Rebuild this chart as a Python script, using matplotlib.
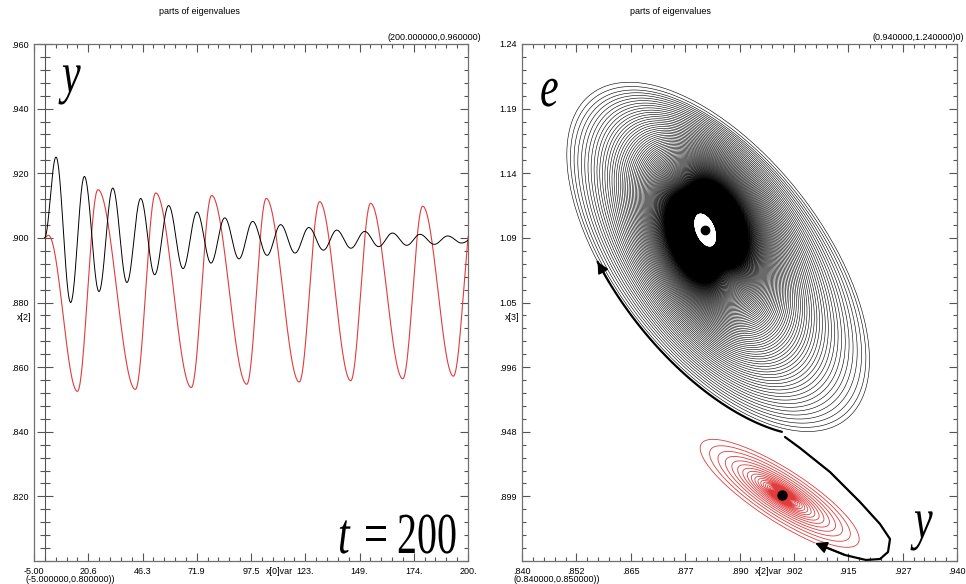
import numpy as np
import matplotlib
matplotlib.use('Agg')
import matplotlib.pyplot as plt
from matplotlib.ticker import FixedLocator
from matplotlib.textpath import TextPath
from matplotlib.patches import PathPatch
from matplotlib.font_manager import FontProperties
from matplotlib.transforms import Affine2D

# ---- left panel: y(t), extrema (t, value) ----
black_t = [0, 5.4, 12.3, 18.8, 25.7, 32.2, 38.9, 45.4, 52.0, 58.6, 65.4, 72.0, 78.6,
           85.1, 91.8, 98.3, 105.1, 111.5, 118.3, 124.8, 131.7, 138.0, 144.7, 151.2,
           157.8, 164.3, 171.1, 177.3, 184.1, 190.4, 197.0, 203.6]
black_v = [0.900, 0.925, 0.880, 0.919, 0.8834, 0.9154, 0.8862, 0.9122, 0.8886, 0.910,
           0.8905, 0.908, 0.8922, 0.9062, 0.8935, 0.9051, 0.8946, 0.9041, 0.8953, 0.9032,
           0.8962, 0.9024, 0.8968, 0.9020, 0.8973, 0.9015, 0.8977, 0.9011, 0.8980, 0.9006,
           0.8984, 0.9004]
red_t = [0, 1.8, 15.5, 25.2, 42.9, 52.5, 69.3, 78.9, 95.5, 104.7, 120.3, 129.9, 144.6,
         154.0, 169.2, 178.6, 193.1, 202.6]
red_v = [0.900, 0.9008, 0.8525, 0.9149, 0.8531, 0.9139, 0.8537, 0.9131, 0.8547, 0.9122,
         0.8554, 0.9112, 0.8558, 0.9107, 0.8564, 0.9098, 0.8572, 0.909]

t_labels = ['-5.00', '20.6', '46.3', '71.9', '97.5', '123.', '149.', '174.', '200.']
yl_labels = ['', '.820', '.840', '.860', '.880', '.900', '.920', '.940', '.960']

# ---- right panel: phase plane e vs y ----
xr_labels = ['.840', '.852', '.865', '.877', '.890', '.902', '.915', '.927', '.940']
yr_labels = ['', '.899', '.948', '.996', '1.05', '1.09', '1.14', '1.19', '1.24']

# branch from the saddle down to the red focus (thick black)
branch_x = [0.90046, 0.90391, 0.91080, 0.91770, 0.92230, 0.92460, 0.92414, 0.92230,
            0.91908, 0.91425, 0.90966, 0.90736]
branch_y = [0.94353, 0.93523, 0.91713, 0.89450, 0.87790, 0.86658, 0.85678, 0.85150,
            0.85075, 0.85451, 0.86055, 0.86357]

# big black spiral: centre, ellipse axes (outer ring and inner hole shape)
big_center_out = (0.8853, 1.0786)
big_center_in = (0.8821, 1.0997)
big_major_out = (0.0283, -0.1189)
big_minor_out = (-0.0181, -0.0465)
big_major_in = (0.0172, -0.1399)
big_minor_in = (-0.0240, -0.0318)
big_start, big_end, big_phi0 = 1.05, 0.09, 0.58
big_rate, big_power = 0.024, 0.42     # shrink per turn, slower near the focus
big_arrow_phi = 1.95

# red spiral round the lower focus
red_center = (0.8998, 0.8998)
red_major = (0.020130, -0.042444)
red_minor = (-0.003482, -0.017785)
red_end, red_q = 0.018, 0.885

RED = '#e03c3c'
TICK = '#555555'

plt.rcParams['font.family'] = ['Liberation Sans', 'DejaVu Sans']
W, H, DPI = 966, 584, 100
fig = plt.figure(figsize=(W / DPI, H / DPI), dpi=DPI)


def through_extrema(ts, vs, n=60):
    tt, yy = [], []
    for i in range(len(ts) - 1):
        f = np.linspace(0, 1, n, endpoint=False)
        tt.append(ts[i] + (ts[i + 1] - ts[i]) * f)
        yy.append(vs[i] + (vs[i + 1] - vs[i]) * (1 - np.cos(np.pi * f)) / 2)
    tt.append([ts[-1]]); yy.append([vs[-1]])
    return np.concatenate(tt), np.concatenate(yy)


def spiral(c_out, c_in, M_out, N_out, M_in, N_in, s0, s1, rate, power, phi0, s_in,
           per_turn=220):
    # size s shrinks by about rate * s**power per turn (power 0: geometric)
    if power == 0:
        turns = np.log(s0 / s1) / rate
    else:
        turns = (s1 ** -power - s0 ** -power) / (power * rate)
    n = np.linspace(0, turns, int(turns * per_turn))
    phi = phi0 + 2 * np.pi * n
    if power == 0:
        s = s0 * np.exp(-rate * n)
    else:
        s = (s0 ** -power + power * rate * n) ** (-1 / power)
    w = np.clip((s - s_in) / (1 - s_in), 0, 1)[:, None]
    c = np.array(c_in) + (np.array(c_out) - np.array(c_in)) * w
    M = np.array(M_in) + (np.array(M_out) - np.array(M_in)) * w
    N = np.array(N_in) + (np.array(N_out) - np.array(N_in)) * w
    p = c + s[:, None] * (np.cos(phi)[:, None] * M + np.sin(phi)[:, None] * N)
    return phi, p[:, 0], p[:, 1]


def frame(ax, xlim, ylim, xlabels, ylabels):
    ax.set_xlim(xlim); ax.set_ylim(ylim)
    ax.xaxis.set_major_locator(FixedLocator(np.linspace(*xlim, 9)))
    ax.xaxis.set_minor_locator(FixedLocator(np.linspace(*xlim, 41)))
    ax.yaxis.set_major_locator(FixedLocator(np.linspace(*ylim, 9)))
    ax.yaxis.set_minor_locator(FixedLocator(np.linspace(*ylim, 41)))
    ax.set_xticklabels(xlabels)
    ax.set_yticklabels(ylabels)
    for sp in ax.spines.values():
        sp.set_color('#707070'); sp.set_linewidth(0.9)
    ax.tick_params(which='both', direction='in', color=TICK, width=0.8,
                   labelsize=6.5, top=True, right=True, pad=4)
    ax.tick_params(which='major', length=6)
    ax.tick_params(which='minor', length=3.2)


def big_text(s, x, base, style='italic', ew=42, eh=58):
    fp = FontProperties(family='Liberation Serif', style=style)
    path = TextPath((0, 0), s, size=1, prop=fp)
    tr = Affine2D().scale(ew / DPI, eh / DPI).translate(x / DPI, (H - base) / DPI)
    fig.add_artist(PathPatch(path, transform=tr + fig.dpi_scale_trans,
                             facecolor='black', edgecolor='none'))


def ftext(x, y, s, **kw):
    fig.text(x / W, 1 - y / H, s, fontsize=6.5, va='center', **kw)


# ---------------- left panel ----------------
axl = fig.add_axes([34 / W, 23 / H, 434 / W, 517 / H])
frame(axl, (-5, 200), (0.80, 0.96), t_labels, yl_labels)
axl.tick_params(axis='y', which='both', left=False)
x0 = (0 - axl.get_xlim()[0]) / (axl.get_xlim()[1] - axl.get_xlim()[0])
sec = axl.secondary_yaxis(x0)
sec.yaxis.set_major_locator(FixedLocator(np.linspace(0.80, 0.96, 9)))
sec.yaxis.set_minor_locator(FixedLocator(np.linspace(0.80, 0.96, 41)))
sec.tick_params(which='both', direction='inout', color=TICK, width=0.8, labelleft=False)
sec.tick_params(which='major', length=11)
sec.tick_params(which='minor', length=7)
sec.spines['left'].set_color('#555555')

tb, vb = through_extrema(black_t, black_v)
tr_, vr = through_extrema(red_t, red_v)
axl.plot(tr_, vr, color=RED, lw=0.8)
axl.plot(tb, vb, color='black', lw=0.7)

# ---------------- right panel ----------------
axr = fig.add_axes([522 / W, 23 / H, 435 / W, 517 / H])
frame(axr, (0.84, 0.94), (0.85, 1.24), xr_labels, yr_labels)

phi, bx, by = spiral(big_center_out, big_center_in, big_major_out, big_minor_out,
                     big_major_in, big_minor_in, big_start, big_end, big_rate, big_power,
                     big_phi0, big_end)
axr.plot(bx, by, color='black', lw=0.42)
thick = phi <= big_arrow_phi
axr.plot(bx[thick], by[thick], color='black', lw=1.6, solid_capstyle='round')
i_tip = np.argmax(~thick) - 1
i_base = np.argmin(np.abs(phi - (big_arrow_phi - 0.15)))
axr.annotate('', xy=(bx[i_tip], by[i_tip]), xytext=(bx[i_base], by[i_base]),
             arrowprops=dict(arrowstyle='-|>', mutation_scale=17, color='black',
                             lw=1.2, shrinkA=0, shrinkB=0))
axr.plot(big_center_in[0], big_center_in[1], 'o', color='black', ms=6, zorder=5)

# red spiral continues from the end of the saddle branch
M, N = np.array(red_major), np.array(red_minor)
cd = np.linalg.solve(np.column_stack([M, N]),
                     np.array([branch_x[-1], branch_y[-1]]) - np.array(red_center))
red_s0, red_phi0 = np.hypot(*cd), np.arctan2(cd[1], cd[0])
_, rx, ry = spiral(red_center, red_center, red_major, red_minor, red_major, red_minor,
                   red_s0, red_end, -np.log(red_q), 0, red_phi0, red_end, per_turn=300)
axr.plot(rx, ry, color=RED, lw=0.6)
axr.plot(branch_x[:-1], branch_y[:-1], color='black', lw=1.6, solid_capstyle='round')
axr.annotate('', xy=(branch_x[-1], branch_y[-1]), xytext=(branch_x[-3], branch_y[-3]),
             arrowprops=dict(arrowstyle='-|>', mutation_scale=18, color='black',
                             lw=1.2, shrinkA=0, shrinkB=0))
axr.plot(red_center[0], red_center[1], 'o', color='black', ms=6.5, zorder=5)

# ---------------- texts ----------------
ftext(199, 12, 'parts of eigenvalues', ha='center')
ftext(670, 12, 'parts of eigenvalues', ha='center')
ftext(481, 38, '(200.000000,0.960000)', ha='right')
ftext(964, 38, '(0.940000,1.240000)0)', ha='right')
ftext(25, 579, '(-5.000000,0.800000))', ha='left')
ftext(514, 579, '(0.840000,0.850000))', ha='left')
ftext(266, 572, 'x[0]var', ha='left')
ftext(755, 572, 'x[2]var', ha='left')
ftext(17, 318, 'x[2]', ha='left')
ftext(505, 318, 'x[3]', ha='left')

big_text('y', 62, 92)
big_text('e', 540, 106)
big_text('y', 914, 538)
big_text('t', 338, 553)
big_text('=', 364, 553, style='normal')
big_text('200', 397, 553, style='normal', ew=40)

fig.savefig('out.png', dpi=DPI)
